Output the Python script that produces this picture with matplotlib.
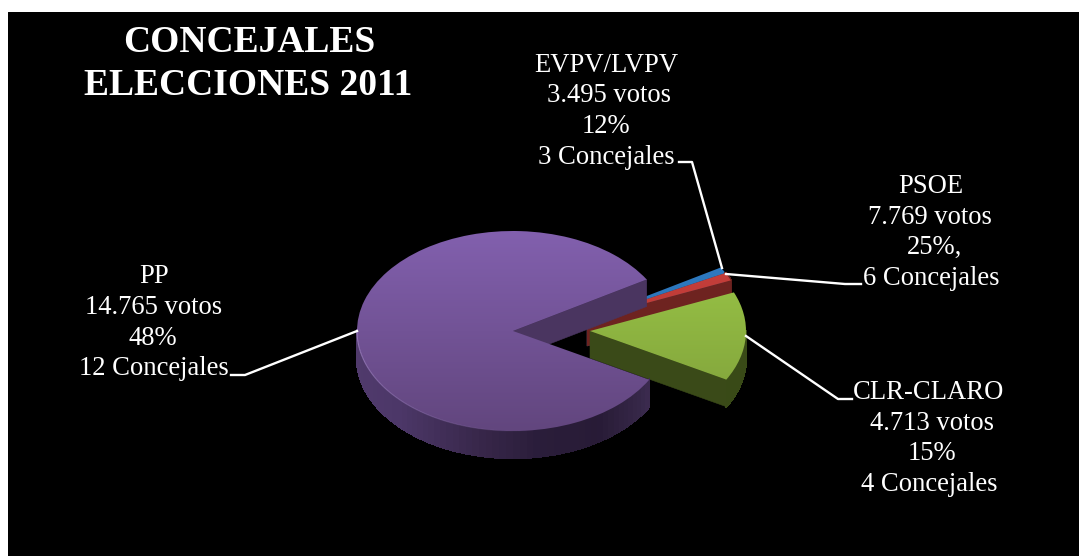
import matplotlib
matplotlib.use('Agg')
import matplotlib.pyplot as plt
from matplotlib.collections import PolyCollection, LineCollection
from matplotlib.colors import to_rgb
from matplotlib.lines import Line2D
import numpy as np

W, H = 1079, 556

# slices as drawn in the picture (share of the circle, in %)
parties = ['PP', 'CLR-CLARO', 'PSOE', 'EVPV/LVPV']
shares = [83.3, 14.4, 1.3, 1.0]
votes = ['14.765 votos', '4.713 votos', '7.769 votos', '3.495 votos']
percents = ['48%', '15%', '25%,', '12%']
seats = ['12 Concejales', '4 Concejales', '6 Concejales', '3 Concejales']
title_lines = ['CONCEJALES', 'ELECCIONES 2011']

# pixel geometry of the tilted pie
CX, CY, RX, RY, DEPTH = 513, 331, 156, 100, 27
offsets = [(0, 0), (77, 0), (74, 12), (74, 12)]
top_colors = [('#8260AE', '#62467E'), ('#9DCA48', '#7E9E3A'),
              ('#C8403C', '#B83733'), ('#2F7CC4', '#2A70B0')]
face_colors = ['#4A3560', '#3A4A18', '#6E2320', '#1F4F7C']
side_colors = ['#60467C', '#3F5219', '#6E2320', '#1F4F7C']
# purple wall goes dark from left to right, lifts again at the far end
wall_px = [357, 400, 480, 540, 600, 640, 650]
wall_r = [0x50, 0x4C, 0x38, 0x2A, 0x28, 0x36, 0x3C]
wall_g = [0x3A, 0x37, 0x27, 0x1D, 0x1B, 0x27, 0x2B]
wall_b = [0x6C, 0x68, 0x4A, 0x3A, 0x36, 0x48, 0x50]


def shade(color, k):
    return tuple(min(1, c * k) for c in to_rgb(color))


plt.rcParams['font.family'] = ['Liberation Serif', 'DejaVu Serif']
fig = plt.figure(figsize=(W / 100, H / 100), dpi=100, facecolor='white')
ax = fig.add_axes([8 / W, 0, (W - 8) / W, (H - 12) / H], facecolor='black')

wedges, _ = ax.pie(shares, startangle=31, radius=1)
ax.set_aspect('auto')
ax.set_axis_off()
ax.add_patch(plt.Rectangle((0, 0), 1, 1, transform=ax.transAxes, color='black', zorder=0))
dz = DEPTH / RY


def draw_slice(i, z):
    w = wedges[i]
    ox, oy = offsets[i][0] / RX, offsets[i][1] / RY
    w.set_center((ox, oy))
    t1, t2 = np.radians(w.theta1), np.radians(w.theta2)

    # outer wall, only the arc facing the viewer
    th = np.linspace(t1, t2, 120)
    polys, cols = [], []
    for a, b in zip(th[:-1], th[1:]):
        if np.sin((a + b) / 2) > 0 and i != 2:
            continue
        xa, ya = ox + np.cos(a), oy + np.sin(a)
        xb, yb = ox + np.cos(b), oy + np.sin(b)
        polys.append([(xa, ya), (xb, yb), (xb, yb - dz), (xa, ya - dz)])
        if i == 0:
            px = CX + RX * (xa + xb) / 2
            cols.append((np.interp(px, wall_px, wall_r) / 255,
                         np.interp(px, wall_px, wall_g) / 255,
                         np.interp(px, wall_px, wall_b) / 255))
        else:
            cols.append(shade(side_colors[i], 0.9))
    if polys:
        ax.add_collection(PolyCollection(polys, facecolors=cols, edgecolors=cols,
                                         linewidths=1.0, antialiaseds=False, zorder=z))

    # cut face along the lower edge of the slice
    xe, ye = ox + np.cos(t1), oy + np.sin(t1)
    ax.add_patch(plt.Polygon([(ox, oy), (xe, ye), (xe, ye - dz), (ox, oy - dz)],
                             color=face_colors[i], lw=0.4, zorder=z))

    # top, vertical gradient clipped to the wedge
    w.set_facecolor('none')
    w.set_edgecolor('none')
    w.set_zorder(z + 1)
    c1, c2 = np.array(to_rgb(top_colors[i][0])), np.array(to_rgb(top_colors[i][1]))
    grad = np.linspace(0, 1, 256)[:, None, None]
    img = ax.imshow(c1 + (c2 - c1) * grad, extent=(ox - 1, ox + 1, oy - 1, oy + 1),
                    origin='upper', aspect='auto', zorder=z + 1)
    img.set_clip_path(w)

    # thin bevel line on the rim, fades out to the right
    if i == 0:
        rim = np.linspace(np.radians(180), np.radians(280), 60)
        segs = [[(np.cos(a), np.sin(a)), (np.cos(b), np.sin(b))] for a, b in zip(rim[:-1], rim[1:])]
        alphas = np.linspace(0.7, 0, len(segs))
        ax.add_collection(LineCollection(segs, colors=[(0.66, 0.55, 0.8, al) for al in alphas],
                                         linewidths=0.8, zorder=z + 2))


# back to front
draw_slice(3, 2)
draw_slice(2, 4)
draw_slice(1, 6)
draw_slice(0, 8)
ax.set_xlim((8 - CX) / RX, (W - CX) / RX)
ax.set_ylim((CY - H) / RY, (CY - 12) / RY)


def label(x, base, s, **kw):
    fig.text(x / W, 1 - base / H, s, color='white', ha='center', va='baseline', **kw)


def leader(xs, ys):
    fig.add_artist(Line2D(np.array(xs) / W, 1 - np.array(ys) / H, color='white', lw=1.7, zorder=20))


label(249, 52, title_lines[0], fontsize=27, fontweight='bold')
label(248, 95, title_lines[1], fontsize=27, fontweight='bold')

block_x = [(154, 154, 153, 154), (929, 932, 932, 929), (931, 930, 934, 931), (606, 609, 606, 606)]
block_y = [(283, 314, 345, 375), (399, 430, 460, 491), (193, 224, 254, 285), (72, 102, 133, 164)]
for i in range(4):
    rows = [parties[i], votes[i], percents[i], seats[i]]
    for s, x, y in zip(rows, block_x[i], block_y[i]):
        label(x, y, s, fontsize=19.2)

leader([231, 245, 357], [375, 375, 331])
leader([852, 838, 746], [399, 399, 336])
leader([861, 845, 726], [284, 284, 274])
leader([679, 692, 722], [162, 162, 268])

fig.savefig('out.png', dpi=100, facecolor='white')
